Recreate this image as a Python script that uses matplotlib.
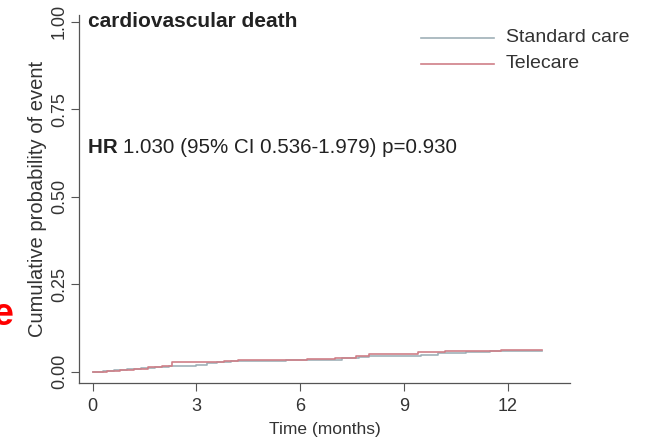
import numpy as np
import matplotlib
matplotlib.use('Agg')
import matplotlib.pyplot as plt

# Curvas cumulativas (passo a passo)
std_time = [0, 0.3, 0.6, 1.0, 1.4, 1.8, 2.2, 3.0, 3.3, 3.6, 4.0, 5.6, 6.5, 7.2,
            7.7, 8.0, 8.8, 9.5, 10.0, 10.8, 11.5, 13.0]
std_prob = [0, 0.003, 0.006, 0.009, 0.012, 0.015, 0.016, 0.020, 0.024, 0.028,
            0.031, 0.033, 0.035, 0.038, 0.041, 0.044, 0.046, 0.049, 0.053,
            0.056, 0.059, 0.060]

tele_time = [0, 0.4, 0.8, 1.2, 1.6, 2.0, 2.3, 3.3, 3.8, 4.2, 5.5, 6.2, 7.0, 7.6,
             8.0, 9.0, 9.4, 10.2, 11.1, 11.8, 13.0]
tele_prob = [0, 0.003, 0.006, 0.009, 0.013, 0.017, 0.027, 0.029, 0.031, 0.033,
             0.034, 0.036, 0.039, 0.044, 0.050, 0.052, 0.056, 0.058, 0.060,
             0.061, 0.061]

x_ticks = [0, 3, 6, 9, 12]
y_ticks = [0.00, 0.25, 0.50, 0.75, 1.00]

plt.rcParams['font.family'] = ['Liberation Sans', 'DejaVu Sans']
txt = '#333333'
c_std = '#9fb0b8'
c_tele = '#cf7f88'

fig = plt.figure(figsize=(6.58, 4.42), dpi=100)
ax = fig.add_axes([0.120, 0.1335, 0.746, 0.833])

ax.step(std_time, std_prob, where='post', color=c_std, lw=1.2)
ax.step(tele_time, tele_prob, where='post', color=c_tele, lw=1.2)

ax.set_xlim(-0.4, 13.8)
ax.set_ylim(-0.032, 1.02)
ax.set_xticks(x_ticks)
ax.set_yticks(y_ticks)
ax.set_xticklabels([str(t) for t in x_ticks], fontsize=13, color=txt)
ax.set_yticklabels(['%.2f' % v for v in y_ticks], fontsize=13, color=txt,
                   rotation=90, va='center')
ax.tick_params(direction='out', length=6, width=0.8, colors='#555555',
               labelcolor=txt)
ax.tick_params(axis='x', pad=5)
ax.tick_params(axis='y', pad=2)
for s in ['top', 'right']:
    ax.spines[s].set_visible(False)
for s in ['left', 'bottom']:
    ax.spines[s].set_color('#555555')
    ax.spines[s].set_linewidth(0.9)

ax.set_xlabel('Time (months)', fontsize=12.5, color=txt, labelpad=5)
ax.set_ylabel('Cumulative probability of event', fontsize=14.5, color=txt,
              labelpad=3)

ax.text(-0.15, 1.0, 'cardiovascular death', fontsize=15, fontweight='bold',
        color='#222222', va='center')
hr = ax.text(-0.15, 0.64, 'HR ', fontsize=14.8, fontweight='bold',
             color='#222222', va='center')
ax.annotate('1.030 (95% CI 0.536-1.979) p=0.930', xy=(1, 0), xycoords=hr,
            fontsize=14.8, color='#222222', va='bottom', ha='left')

# Legenda desenhada manualmente
ax.plot([9.5, 11.6], [0.955, 0.955], color=c_std, lw=1.2)
ax.plot([9.5, 11.6], [0.88, 0.88], color=c_tele, lw=1.2)
ax.text(11.95, 0.955, 'Standard care', fontsize=14, color=txt, va='center')
ax.text(11.95, 0.88, 'Telecare', fontsize=14, color=txt, va='center')

# fragmento vermelho cortado na borda esquerda
fig.text(13 / 658, 1 - 315 / 442, 'e', fontsize=27, fontweight='bold',
         color='red', ha='right', va='center')

fig.savefig('out.png', dpi=100)
